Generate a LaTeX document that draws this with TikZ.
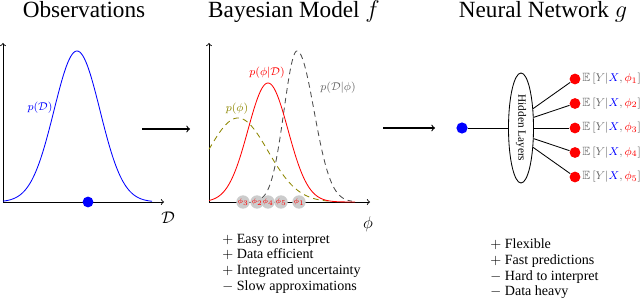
\documentclass[tikz,border=0pt]{standalone}
\usepackage{amssymb}
\usepackage[no-math]{fontspec}
\setmainfont{Liberation Serif}
\usetikzlibrary{shapes.geometric}
\begin{document}
\begin{tikzpicture}[>=to, x=0.025cm, y=-0.025cm, line width=0.6pt]
    \tikzset{title/.style={font=\fontsize{16.5}{20}\selectfont, anchor=base},
        dot/.style={circle, fill=#1, inner sep=0pt, minimum size=0.27cm},
        sample/.style={circle, fill=black!20, inner sep=0pt, minimum size=0.285cm, font=\tiny, text=red},
        curvelabel/.style={font=\fontsize{8.5}{10}\selectfont},
        proscons/.style={anchor=north west, align=left, inner sep=0pt, font=\fontsize{10}{11.2}\selectfont},
        outlabel/.style={anchor=west, inner sep=0.8pt, text=black!60, font=\fontsize{8.5}{10}\selectfont},
        density/.style={samples=100, smooth},
        dens dashed/.style={density, dash pattern=on 4pt off 3pt}}
    \useasboundingbox (0,0) rectangle (640,302);
    \node[title] (obs) at (84,18) {Observations};
    \coordinate (o1) at (3,202);
    \coordinate (y1) at (3,43);
    \coordinate (x1) at (164,202);
    \draw[->] (o1) -- (y1);
    \draw[->] (o1) -- (x1);
    \draw[blue, density, domain=3:152] plot (\x, {202-151*exp(-(\x-77)*(\x-77)/1058)});
    \node[curvelabel, blue] (pd) at (40,108) {$p(\mathcal{D})$};
    \node[dot=blue] (data) at (88,202) {};
    \node[font=\large] (dlab) at (168,218) {$\mathcal{D}$};
    \coordinate (a1s) at (142,129);
    \coordinate (a1e) at (190,129);
    \draw[->, line width=0.8pt] (a1s) -- (a1e);

    \node[title] (bayes) at (294,18) {Bayesian Model $f$};
    \coordinate (o2) at (209,202);
    \coordinate (y2) at (209,43);
    \coordinate (x2) at (370,202);
    \draw[->] (o2) -- (y2);
    \draw[->] (o2) -- (x2);
    \draw[olive, dens dashed, domain=209:335] plot (\x, {202-84*exp(-(\x-238)*(\x-238)/1800)});
    \draw[black!70, dens dashed, domain=262:352] plot (\x, {202-151*exp(-(\x-297)*(\x-297)/(2*ifthenelse(\x<297,13,17)^2))});
    \draw[red, density, domain=209:355] plot (\x, {202-119*exp(-(\x-268)*(\x-268)/800)});
    \node[curvelabel, olive] (prior) at (237,109) {$p(\phi)$};
    \node[curvelabel, red] (post) at (267,73) {$p(\phi|\mathcal{D})$};
    \node[curvelabel, black!60] (lik) at (338,88) {$p(\mathcal{D}|\phi)$};
    \foreach \x/\k in {243/3,257/2,268/4,281/5,299/1}
        \node[sample] (s\k) at (\x,202) {$\phi_{\k}$};
    \node[font=\large] (philab) at (368,224) {$\phi$};
    \node[proscons] (bpros) at (222,233.5) {$+$ Easy to interpret\\$+$ Data efficient\\$+$ Integrated uncertainty\\$-$ Slow approximations};
    \coordinate (a2s) at (383,128);
    \coordinate (a2e) at (435,128);
    \draw[->, line width=0.8pt] (a2s) -- (a2e);

    \node[title] (nn) at (543,18) {Neural Network $g$};
    \node[dot=blue, minimum size=0.28cm] (in) at (462,128) {};
    \node[draw, ellipse, minimum width=0.625cm, minimum height=2.75cm, inner sep=0pt, font=\footnotesize] (hl) at (521,128) {\rotatebox{-90}{Hidden Layers}};
    \draw (in) -- (hl);
    \foreach \i/\a in {1/58,2/40,3/0,4/-40,5/-58} {
        \node[dot=red] (out\i) at (575,{128+24.5*(\i-3)}) {};
        \draw (hl.\a) -- (out\i);
        \node[outlabel] (lab\i) at (out\i.east) {$\mathbb{E}\,[Y|{\color{blue}X},{\color{red}\phi_{\i}}]$};
    }
    \node[proscons] (npros) at (490,238.5) {$+$ Flexible\\$+$ Fast predictions\\$-$ Hard to interpret\\$-$ Data heavy};
\end{tikzpicture}
\end{document}
